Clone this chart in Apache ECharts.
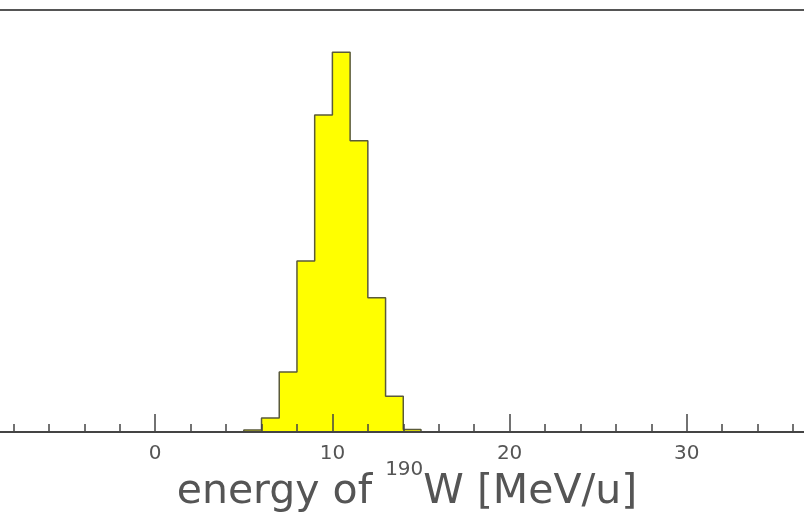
<!DOCTYPE html>
<html>
<head>
<meta charset="utf-8">
<script src="https://cdn.jsdelivr.net/npm/echarts@6/dist/echarts.min.js"></script>
<style>
    html, body { margin: 0; padding: 0; background: #fff; }
    #hist { width: 804px; height: 517px; }
</style>
</head>
<body>
<div id="hist"></div>
<script>
// bin left edges (MeV/u) and counts, bin width 1
let binEdges = [5, 6, 7, 8, 9, 10, 11, 12, 13, 14]
let binCounts = [5, 33, 142, 405, 751, 900, 690, 318, 85, 6]
let binWidth = 1
let xTicks = [-10, 0, 10, 20, 30, 40]

// step outline: start on the baseline, then one point per bin, close at last edge
let stepData = [[binEdges[0], 0]]
binEdges.forEach((e, i) => {
    stepData.push([e, binCounts[i]])
})
stepData.push([binEdges[binEdges.length - 1] + binWidth, 0])

let chart = echarts.init(document.getElementById('hist'))
let option = {
    animation: false,
    grid: {
        left: -22,
        right: -60,
        top: 10,
        bottom: 85,
        containLabel: false,
        outerBoundsMode: 'none',
        show: true,
        borderColor: '#555',
        borderWidth: 2,
        backgroundColor: 'transparent'
    },
    xAxis: {
        type: 'value',
        z: 5, // ticks drawn over the yellow
        min: xTicks[0],
        max: xTicks[xTicks.length - 1],
        interval: 10,
        axisLine: { show: true, onZero: false, lineStyle: { color: '#444', width: 2 } },
        axisTick: { show: true, inside: true, length: 18, lineStyle: { color: '#444', width: 1.5 } },
        minorTick: { show: true, splitNumber: 5, length: 8, lineStyle: { color: '#444', width: 1.5 } },
        splitLine: { show: false },
        axisLabel: {
            margin: 12,
            fontFamily: 'DejaVu Sans',
            fontSize: 20,
            color: '#555'
        },
        name: '{a|energy of }{s|190}{a|W [MeV/u]}',
        nameLocation: 'middle',
        nameMoveOverlap: false,
        nameGap: 28,
        nameTextStyle: {
            color: '#555',
            padding: [0, 28, 0, 0],
            rich: {
                a: { fontFamily: 'DejaVu Sans', fontSize: 41, color: '#555', lineHeight: 64, verticalAlign: 'middle' },
                s: { fontFamily: 'DejaVu Sans', fontSize: 20, color: '#555', lineHeight: 20, verticalAlign: 'top' }
            }
        }
    },
    yAxis: {
        type: 'value',
        min: 0,
        max: 1000,
        show: false
    },
    series: [{
        type: 'line',
        step: 'end',
        data: stepData,
        symbol: 'none',
        lineStyle: { color: '#5a5a3a', width: 1.5 },
        areaStyle: { color: '#ffff00', opacity: 1 }
    }]
}
chart.setOption(option)
</script>
</body>
</html>
